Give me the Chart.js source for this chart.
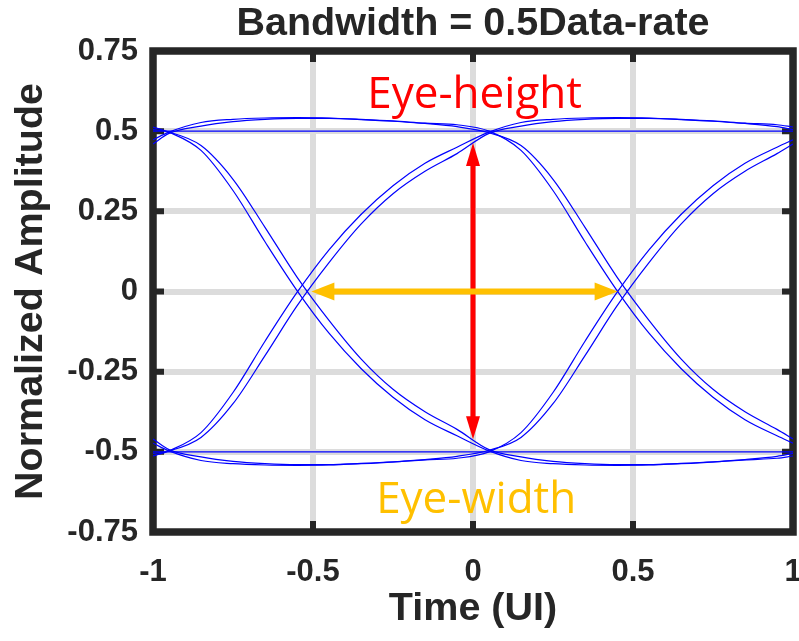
<!DOCTYPE html>
<html>
<head>
<meta charset="utf-8">
<title>Eye diagram</title>
<script src="https://cdn.jsdelivr.net/npm/chart.js@4.4.0/dist/chart.umd.min.js"></script>
<style>
  html, body { margin: 0; padding: 0; background: #fff; }
  #wrap { width: 799px; height: 641px; }
</style>
</head>
<body>
<div id="wrap"><canvas id="eye-chart" width="799" height="641"></canvas></div>
<script>
// time axis in unit intervals; -0.95 and 0.05 are where the bit boundaries meet
const timeUI = [-1, -0.95, -0.85, -0.75, -0.65, -0.55, -0.45, -0.35, -0.25, -0.15, -0.05,
                0.05, 0.15, 0.25, 0.35, 0.45, 0.55, 0.65, 0.75, 0.85, 0.95, 1];

// bit patterns 0011, 1100, 1001 and 0110 with the settled edge
const riseThenHigh = [-0.513, -0.497, -0.44, -0.315, -0.155, -0.003, 0.13, 0.24, 0.33, 0.40, 0.45,
                      0.497, 0.527, 0.537, 0.541, 0.542, 0.541, 0.537, 0.532, 0.525, 0.52, 0.513];
const highThenFall = [0.473, 0.497, 0.527, 0.537, 0.541, 0.542, 0.541, 0.537, 0.532, 0.525, 0.52,
                      0.5, 0.44, 0.315, 0.155, 0.003, -0.13, -0.24, -0.33, -0.40, -0.45, -0.473];
const fallThenLow = [0.513, 0.497, 0.44, 0.315, 0.155, 0.003, -0.13, -0.24, -0.33, -0.40, -0.45,
                     -0.497, -0.527, -0.537, -0.541, -0.542, -0.541, -0.537, -0.532, -0.525, -0.52, -0.513];
const lowThenRise = [-0.473, -0.497, -0.527, -0.537, -0.541, -0.542, -0.541, -0.537, -0.532, -0.525, -0.52,
                     -0.5, -0.44, -0.315, -0.155, -0.003, 0.13, 0.24, 0.33, 0.40, 0.45, 0.473];

// same patterns where the edge lags by about 0.03 UI
const riseThenHighLate = [-0.505, -0.497, -0.455, -0.35, -0.2, -0.045, 0.09, 0.21, 0.305, 0.375, 0.43,
                          0.493, 0.516, 0.53, 0.537, 0.54, 0.54, 0.536, 0.531, 0.524, 0.514, 0.505];
const highThenFallLate = [0.46, 0.493, 0.516, 0.53, 0.537, 0.54, 0.54, 0.536, 0.531, 0.524, 0.514,
                          0.495, 0.455, 0.35, 0.2, 0.045, -0.09, -0.21, -0.305, -0.375, -0.43, -0.46];
const fallThenLowLate = [0.505, 0.497, 0.455, 0.35, 0.2, 0.045, -0.09, -0.21, -0.305, -0.375, -0.43,
                         -0.493, -0.516, -0.53, -0.537, -0.54, -0.54, -0.536, -0.531, -0.524, -0.514, -0.505];
const lowThenRiseLate = [-0.46, -0.493, -0.516, -0.53, -0.537, -0.54, -0.54, -0.536, -0.531, -0.524, -0.514,
                         -0.495, -0.455, -0.35, -0.2, -0.045, 0.09, 0.21, 0.305, 0.375, 0.43, 0.46];

// long runs of ones / zeros
const highSteady = [0.5, 0.5, 0.5, 0.5, 0.5, 0.5, 0.5, 0.5, 0.5, 0.5, 0.5,
                    0.5, 0.5, 0.5, 0.5, 0.5, 0.5, 0.5, 0.5, 0.5, 0.5, 0.5];
const lowSteady = [-0.5, -0.5, -0.5, -0.5, -0.5, -0.5, -0.5, -0.5, -0.5, -0.5, -0.5,
                   -0.5, -0.5, -0.5, -0.5, -0.5, -0.5, -0.5, -0.5, -0.5, -0.5, -0.5];

const traces = [riseThenHigh, highThenFall, fallThenLow, lowThenRise,
                riseThenHighLate, highThenFallLate, fallThenLowLate, lowThenRiseLate,
                highSteady, lowSteady];

const xTicks = [-1, -0.5, 0, 0.5, 1];
const yTicks = [-0.75, -0.5, -0.25, 0, 0.25, 0.5, 0.75];

// eye opening markers: amplitude span at t = 0, time span at amplitude 0
const eyeHeight = [0.463, -0.461];
const eyeWidth = [-0.505, 0.452];

const INK = '#262626';
const AXIS_FONT = 'Liberation Sans, Arial, Helvetica, sans-serif';
const fmt = v => String(Math.round(v * 100) / 100);

function arrow(ctx, x1, y1, x2, y2, color, shaft, headLen, headW) {
  const dx = x2 - x1, dy = y2 - y1;
  const len = Math.hypot(dx, dy);
  const ux = dx / len, uy = dy / len;
  const nx = -uy, ny = ux;
  ctx.save();
  ctx.strokeStyle = color;
  ctx.fillStyle = color;
  ctx.lineWidth = shaft;
  ctx.lineCap = 'butt';
  ctx.beginPath();
  ctx.moveTo(x1 + ux * (headLen - 2), y1 + uy * (headLen - 2));
  ctx.lineTo(x2 - ux * (headLen - 2), y2 - uy * (headLen - 2));
  ctx.stroke();
  [[x1, y1, 1], [x2, y2, -1]].forEach(([tx, ty, s]) => {
    const bx = tx + ux * headLen * s, by = ty + uy * headLen * s;
    ctx.beginPath();
    ctx.moveTo(tx, ty);
    ctx.lineTo(bx + nx * headW / 2, by + ny * headW / 2);
    ctx.lineTo(bx - nx * headW / 2, by - ny * headW / 2);
    ctx.closePath();
    ctx.fill();
  });
  ctx.restore();
}

// heavy box round the plot with short inward ticks
const boxFrame = {
  id: 'boxFrame',
  beforeDatasetsDraw(chart) {
    const { ctx, chartArea: a, scales: { x, y } } = chart;
    ctx.save();
    ctx.strokeStyle = INK;
    ctx.lineWidth = 6;
    ctx.lineCap = 'butt';
    ctx.beginPath();
    xTicks.forEach(v => {
      const px = x.getPixelForValue(v);
      ctx.moveTo(px, a.top); ctx.lineTo(px, a.top + 11);
      ctx.moveTo(px, a.bottom); ctx.lineTo(px, a.bottom - 11);
    });
    yTicks.forEach(v => {
      const py = y.getPixelForValue(v);
      ctx.moveTo(a.left, py); ctx.lineTo(a.left + 11, py);
      ctx.moveTo(a.right, py); ctx.lineTo(a.right - 11, py);
    });
    ctx.stroke();
    ctx.lineWidth = 7.5;
    ctx.strokeRect(a.left, a.top, a.right - a.left, a.bottom - a.top);
    ctx.restore();
  }
};

// title, eye-height / eye-width arrows and their labels
const markers = {
  id: 'markers',
  afterDatasetsDraw(chart) {
    const { ctx, chartArea: a, scales: { x, y } } = chart;
    const x0 = x.getPixelForValue(0);
    const y0 = y.getPixelForValue(0);
    arrow(ctx, x0, y.getPixelForValue(eyeHeight[0]), x0, y.getPixelForValue(eyeHeight[1]),
          '#ff0000', 5, 23, 14);
    arrow(ctx, x.getPixelForValue(eyeWidth[0]), y0, x.getPixelForValue(eyeWidth[1]), y0,
          '#ffc000', 6, 23, 18);

    ctx.save();
    ctx.textAlign = 'center';
    ctx.textBaseline = 'alphabetic';
    ctx.font = '44px "Open Sans", sans-serif';
    ctx.fillStyle = '#ff0000';
    ctx.fillText('Eye-height', x.getPixelForValue(0.005), y.getPixelForValue(0.573));
    ctx.fillStyle = '#ffc000';
    ctx.fillText('Eye-width', x.getPixelForValue(0.01), y.getPixelForValue(-0.69));

    ctx.fillStyle = INK;
    ctx.font = 'bold 39.5px ' + AXIS_FONT;
    ctx.fillText('Bandwidth = 0.5Data-rate', (a.left + a.right) / 2, 35);
    ctx.restore();
  }
};

const datasets = traces.map(vals => ({
  data: timeUI.map((t, i) => ({ x: t, y: vals[i] })),
  borderColor: '#0000ff',
  borderWidth: 1.2,
  pointRadius: 0,
  fill: false,
  cubicInterpolationMode: 'monotone'
}));

const tickFont = { family: AXIS_FONT, size: 31, weight: 'bold' };
const titleFont = { family: AXIS_FONT, size: 39.5, weight: 'bold' };

new Chart(document.getElementById('eye-chart'), {
  type: 'line',
  data: { datasets },
  options: {
    responsive: false,
    animation: false,
    layout: { padding: { top: 51, right: 6, left: 0, bottom: 0 } },
    plugins: {
      legend: { display: false },
      tooltip: { enabled: false },
      title: { display: false }
    },
    scales: {
      x: {
        type: 'linear',
        min: -1,
        max: 1,
        afterBuildTicks: s => { s.ticks = xTicks.map(v => ({ value: v })); },
        afterFit: s => { s.height = 109; s.paddingLeft = 0; s.paddingRight = 0; },
        grid: { color: '#dcdcdc', lineWidth: 6, drawTicks: false },
        border: { display: false },
        ticks: { font: tickFont, color: INK, padding: 22, maxRotation: 0, autoSkip: false, callback: fmt },
        title: { display: true, text: 'Time (UI)', font: titleFont, color: INK, padding: { top: 0, bottom: 8 } }
      },
      y: {
        type: 'linear',
        min: -0.75,
        max: 0.75,
        afterBuildTicks: s => { s.ticks = yTicks.map(v => ({ value: v })); },
        afterFit: s => { s.width = 153; s.paddingTop = 0; s.paddingBottom = 0; },
        grid: { color: '#dcdcdc', lineWidth: 6, drawTicks: false },
        border: { display: false },
        ticks: { font: tickFont, color: INK, padding: 15, autoSkip: false, callback: fmt },
        title: { display: true, text: 'Normalized Amplitude', font: titleFont, color: INK, padding: { top: 7, bottom: 0 } }
      }
    }
  },
  plugins: [boxFrame, markers]
});
</script>
</body>
</html>
